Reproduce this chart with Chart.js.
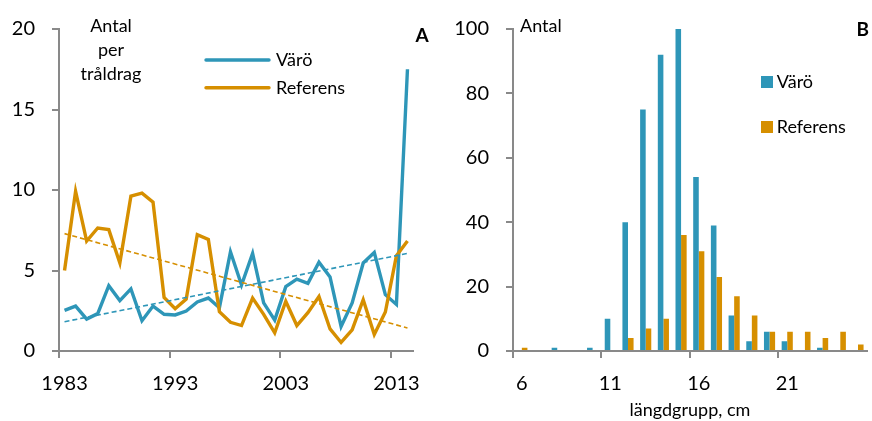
<!DOCTYPE html>
<html>
<head>
<meta charset="utf-8">
<script src="https://cdn.jsdelivr.net/npm/chart.js@4"></script>
<style>
  html, body { margin: 0; padding: 0; background: #fff; }
  body { width: 872px; height: 421px; overflow: hidden; position: relative; }
  .panel { position: absolute; top: 0; height: 421px; }
</style>
</head>
<body>
<div class="panel" style="left:0;width:440px"><canvas id="catchChart" width="440" height="421"></canvas></div>
<div class="panel" style="left:440px;width:432px"><canvas id="lengthChart" width="432" height="421"></canvas></div>
<script>
// Panel A: catch per trawl haul, 1983–2014
const years = ['1983','1984','1985','1986','1987','1988','1989','1990','1991','1992',
               '1993','1994','1995','1996','1997','1998','1999','2000','2001','2002',
               '2003','2004','2005','2006','2007','2008','2009','2010','2011','2012',
               '2013','2014'];
const varoCatch = [2.52, 2.79, 1.98, 2.32, 4.06, 3.13, 3.86, 1.88, 2.79, 2.28,
                   2.24, 2.48, 3.05, 3.29, 2.69, 6.16, 4.10, 6.06, 2.99, 1.92,
                   4.00, 4.46, 4.20, 5.52, 4.60, 1.52, 2.99, 5.47, 6.12, 3.50,
                   2.89, 17.5];
const refCatch  = [5.00, 9.92, 6.83, 7.64, 7.54, 5.47, 9.62, 9.80, 9.25, 3.33,
                   2.63, 3.23, 7.23, 6.93, 2.44, 1.78, 1.58, 3.29, 2.28, 1.13,
                   3.09, 1.58, 2.38, 3.39, 1.37, 0.53, 1.31, 3.19, 1.03, 2.42,
                   5.92, 6.83];
// Linear trend lines: value at first and last year
const varoTrendEnds = [1.82, 6.06];
const refTrendEnds  = [7.29, 1.43];
const catchTicks = [0, 5, 10, 15, 20];

// Panel B: length distribution
const lengthGroups = ['6','7','8','9','10','11','12','13','14','15',
                      '16','17','18','19','20','21','22','23','24','25'];
const varoLength = [0, 0, 1, 0, 1, 10, 40, 75, 92, 100, 54, 39, 11, 3, 6, 3, 0, 1, 0, 0];
const refLength  = [1, 0, 0, 0, 0, 0, 4, 7, 10, 36, 31, 23, 17, 11, 6, 6, 6, 4, 6, 2];
const lengthTicks = [0, 20, 40, 60, 80, 100];

const BLUE = '#2E96B8';
const ORANGE = '#D68F00';
const AXIS = '#898989';
const FONT = 'Lato, "Open Sans", sans-serif';

Chart.defaults.font.family = FONT;
Chart.defaults.color = '#000';
Chart.defaults.animation = false;

function trendData(ends, n) {
  const arr = new Array(n).fill(null);
  arr[0] = ends[0];
  arr[n - 1] = ends[1];
  return arr;
}

function yAxis(max, width, ticks) {
  return {
    min: 0, max: max,
    afterFit: s => { s.width = width; },
    afterBuildTicks: s => { s.ticks = ticks.map(v => ({ value: v })); },
    border: { color: AXIS, width: 2 },
    grid: { drawOnChartArea: false, drawTicks: true, tickLength: 7, color: AXIS, lineWidth: 2 },
    ticks: { font: { size: 20 }, padding: 17, color: '#000' }
  };
}

function xAxis(every, extra) {
  return Object.assign({
    type: 'category',
    offset: true,
    afterFit: s => { s.height = 70; },
    border: { color: AXIS, width: 2 },
    grid: {
      offset: true,
      drawOnChartArea: false,
      drawTicks: true,
      tickLength: 7,
      lineWidth: 2,
      color: ctx => (ctx.index % every === 0 ? AXIS : 'rgba(0,0,0,0)')
    },
    ticks: {
      autoSkip: false, maxRotation: 0, minRotation: 0,
      font: { size: 20 }, padding: 14, color: '#000',
      callback: function (v, i) { return i % every === 0 ? this.getLabelForValue(v) : ''; }
    }
  }, extra || {});
}

// Annotation texts and legends
const catchNotes = {
  id: 'catchNotes',
  afterDraw(chart) {
    const c = chart.ctx;
    c.save();
    c.fillStyle = '#000';
    c.textBaseline = 'alphabetic';
    c.font = '18px ' + FONT;
    c.textAlign = 'center';
    ['Antal', 'per', 'tråldrag'].forEach((t, i) => c.fillText(t, 111, 31.7 + 24 * i));
    c.textAlign = 'left';
    const items = chart.data.datasets.filter(d => d.inLegend);
    items.forEach((d, i) => {
      const y = 60 + 27.7 * i;
      c.strokeStyle = d.borderColor;
      c.lineWidth = 3.4;
      c.lineCap = 'round';
      c.beginPath(); c.moveTo(206, y); c.lineTo(269, y); c.stroke();
      c.fillText(d.label, 276, y + 6);
    });
    c.font = 'bold 19px ' + FONT;
    c.fillText('A', 415.5, 41.7);
    c.restore();
  }
};

const lengthNotes = {
  id: 'lengthNotes',
  afterDraw(chart) {
    const c = chart.ctx;
    c.save();
    c.fillStyle = '#000';
    c.textBaseline = 'alphabetic';
    c.textAlign = 'left';
    c.font = '18px ' + FONT;
    c.fillText('Antal', 80, 31.7);
    chart.data.datasets.forEach((d, i) => {
      const y = 76 + 45 * i;
      c.fillStyle = d.backgroundColor;
      c.fillRect(321, y, 12, 12);
      c.fillStyle = '#000';
      c.fillText(d.label, 336.7, y + 12);
    });
    c.font = 'bold 19px ' + FONT;
    c.fillText('B', 416.5, 36);
    c.restore();
  }
};

new Chart(document.getElementById('catchChart'), {
  type: 'line',
  data: {
    labels: years,
    datasets: [
      { label: 'Värö', data: varoCatch, borderColor: BLUE, borderWidth: 3.4, pointRadius: 0, tension: 0, inLegend: true, order: 4 },
      { label: 'Referens', data: refCatch, borderColor: ORANGE, borderWidth: 3.4, pointRadius: 0, tension: 0, inLegend: true, order: 3 },
      { label: 'Värö trend', data: trendData(varoTrendEnds, years.length), borderColor: BLUE, borderWidth: 1.6,
        borderDash: [5, 3], pointRadius: 0, spanGaps: true, order: 2 },
      { label: 'Referens trend', data: trendData(refTrendEnds, years.length), borderColor: ORANGE, borderWidth: 1.6,
        borderDash: [5, 3], pointRadius: 0, spanGaps: true, order: 1 }
    ]
  },
  options: {
    responsive: false,
    layout: { padding: { top: 21, right: 27, left: 0, bottom: 0 } },
    plugins: { legend: { display: false }, tooltip: { enabled: false } },
    scales: {
      x: xAxis(10),
      y: yAxis(20, 59, catchTicks)
    }
  },
  plugins: [catchNotes]
});

new Chart(document.getElementById('lengthChart'), {
  type: 'bar',
  data: {
    labels: lengthGroups,
    datasets: [
      { label: 'Värö', data: varoLength, backgroundColor: BLUE, borderWidth: 0 },
      { label: 'Referens', data: refLength, backgroundColor: ORANGE, borderWidth: 0 }
    ]
  },
  options: {
    responsive: false,
    layout: { padding: { top: 21, right: 0, left: 0, bottom: 0 } },
    datasets: { bar: { categoryPercentage: 0.63, barPercentage: 1.0 } },
    plugins: { legend: { display: false }, tooltip: { enabled: false } },
    scales: {
      x: xAxis(5, {
        title: { display: true, text: 'längdgrupp, cm', font: { size: 18 }, color: '#000', padding: { top: 0, bottom: 0 } }
      }),
      y: yAxis(100, 73, lengthTicks)
    }
  },
  plugins: [lengthNotes]
});
</script>
</body>
</html>
